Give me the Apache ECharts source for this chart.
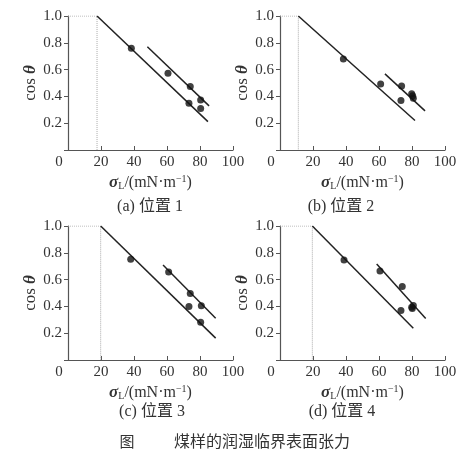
<!DOCTYPE html>
<html><head><meta charset="utf-8">
<script src="https://cdn.jsdelivr.net/npm/echarts@6/dist/echarts.min.js"></script>
<style>html,body{margin:0;padding:0;background:#fff}#c{width:464px;height:459px}</style>
</head><body><div id="c"></div><script>
// ---- data ----
const xTicks = [0, 20, 40, 60, 80, 100];
const yTicks = [0, 0.2, 0.4, 0.6, 0.8, 1.0];
const panelLabels = ['(a) 位置 1', '(b) 位置 2', '(c) 位置 3', '(d) 位置 4'];
const figNo = '图';
const figCaption = '煤样的润湿临界表面张力';
// critical surface tension (where the fitted line reaches cos θ = 1)
const criticalTension = [17.6, 11.1, 19.8, 19.6];
// measured points [σL, cosθ]
const pointsA = [[38.4, 0.759], [60.6, 0.573], [74.1, 0.473], [73.3, 0.349], [80.4, 0.374], [80.4, 0.309]];
const pointsB = [[38.4, 0.679], [61.0, 0.493], [73.7, 0.478], [73.3, 0.369], [79.8, 0.419], [80.8, 0.386], [80.4, 0.405]];
const pointsC = [[38.0, 0.752], [61.0, 0.657], [74.1, 0.496], [73.3, 0.399], [80.8, 0.404], [80.4, 0.282]];
const pointsD = [[38.8, 0.747], [60.6, 0.665], [74.1, 0.548], [73.3, 0.369], [79.8, 0.394], [80.8, 0.406], [80.2, 0.385]];
// fitted lines: [start, end]
const lowerLineA = [[17.6, 1.0], [84.8, 0.212]];
const upperLineA = [[48.1, 0.771], [85.5, 0.329]];
const lowerLineB = [[11.1, 1.0], [81.8, 0.220]];
const upperLineB = [[63.6, 0.568], [87.9, 0.292]];
const lowerLineC = [[19.8, 1.0], [89.5, 0.163]];
const upperLineC = [[57.6, 0.709], [89.5, 0.312]];
const lowerLineD = [[19.6, 1.0], [80.8, 0.237]];
const upperLineD = [[58.6, 0.717], [88.3, 0.309]];

const allPoints = [pointsA, pointsB, pointsC, pointsD];
const lowerLines = [lowerLineA, lowerLineB, lowerLineC, lowerLineD];
const upperLines = [upperLineA, upperLineB, upperLineC, upperLineD];

// ---- layout / style ----
const serif = '"Liberation Serif", "DejaVu Serif", serif';
const cjk = '"Liberation Serif", "Noto Sans CJK SC", serif';
const txt = '#333';
const axisCol = '#555';
const grids = [
  {left: 68, top: 16, width: 165, height: 134},
  {left: 280, top: 16, width: 165, height: 134},
  {left: 68, top: 226, width: 165, height: 134},
  {left: 280, top: 226, width: 165, height: 134}
];
const captionPos = [[150, 207], [341, 207], [152, 412], [342, 412]];

const xAxes = grids.map((g, i) => ({
  gridIndex: i, type: 'value', min: xTicks[0], max: xTicks[xTicks.length - 1], interval: xTicks[1] - xTicks[0],
  axisLine: {lineStyle: {color: axisCol, width: 1.2}},
  axisTick: {inside: true, length: 4, lineStyle: {color: axisCol}},
  splitLine: {show: false},
  axisLabel: {color: txt, fontFamily: serif, fontSize: 15, margin: 5,
    formatter: v => v === 0 ? '{o|0}' : String(v),
    rich: {o: {padding: [0, 18, 0, 0], color: txt, fontFamily: serif, fontSize: 15}}},
  name: '{s|σ}{sub|L}{n|/(mN·m}{sup|−1}{n|)}',
  nameLocation: 'middle', nameGap: 24,
  nameTextStyle: {color: txt, fontFamily: serif, fontSize: 16,
    rich: {
      s: {fontFamily: serif, fontSize: 17, fontStyle: 'italic', fontWeight: 'bold', color: txt},
      sub: {fontFamily: serif, fontSize: 10, color: txt, padding: [7, 0, 0, 0]},
      n: {fontFamily: serif, fontSize: 16, color: txt},
      sup: {fontFamily: serif, fontSize: 10, color: txt, padding: [0, 0, 7, 0]}
    }}
}));
const yAxes = grids.map((g, i) => ({
  gridIndex: i, type: 'value', min: yTicks[0], max: yTicks[yTicks.length - 1], interval: yTicks[1] - yTicks[0],
  axisLine: {lineStyle: {color: axisCol, width: 1.2}},
  axisTick: {inside: false, length: 4, lineStyle: {color: axisCol}},
  splitLine: {show: false},
  axisLabel: {color: txt, fontFamily: serif, fontSize: 15, margin: 6,
    formatter: v => v === 0 ? '' : v.toFixed(1)},
  name: '{c|cos }{t|θ}', nameLocation: 'middle', nameGap: 29, nameRotate: 90,
  nameTextStyle: {color: txt, fontFamily: serif, fontSize: 17,
    rich: {c: {fontFamily: serif, fontSize: 17, color: txt},
           t: {fontFamily: serif, fontSize: 17, fontStyle: 'italic', fontWeight: 'bold', color: txt}}}
}));

const series = [];
grids.forEach((g, i) => {
  const c = criticalTension[i];
  series.push({type: 'line', xAxisIndex: i, yAxisIndex: i, silent: true, symbol: 'none',
    data: [[xTicks[0], yTicks[yTicks.length - 1]], [c, yTicks[yTicks.length - 1]], [c, yTicks[0]]],
    lineStyle: {type: 'dotted', color: '#aaa', width: 1}, z: 1});
  series.push({type: 'line', xAxisIndex: i, yAxisIndex: i, silent: true, symbol: 'none',
    data: lowerLines[i], lineStyle: {color: '#222', width: 1.5}, z: 2});
  series.push({type: 'line', xAxisIndex: i, yAxisIndex: i, silent: true, symbol: 'none',
    data: upperLines[i], lineStyle: {color: '#222', width: 1.5}, z: 2});
  series.push({type: 'scatter', xAxisIndex: i, yAxisIndex: i, symbol: 'circle', symbolSize: 7,
    data: allPoints[i], itemStyle: {color: '#111'}, z: 3});
});

const graphic = panelLabels.map((t, i) => ({
  type: 'text', x: captionPos[i][0], y: captionPos[i][1],
  style: {text: t, fill: txt, font: '16px ' + cjk, textAlign: 'center', textVerticalAlign: 'middle'}
}));
graphic.push({type: 'text', x: 127, y: 441,
  style: {text: figNo, fill: txt, font: '15px "Noto Sans CJK SC"', textAlign: 'center', textVerticalAlign: 'middle'}});
graphic.push({type: 'text', x: 262, y: 441,
  style: {text: figCaption, fill: txt, font: '16px "Noto Sans CJK SC"', textAlign: 'center', textVerticalAlign: 'middle'}});

const chart = echarts.init(document.getElementById('c'), null, {renderer: 'canvas'});
chart.setOption({
  animation: false,
  backgroundColor: '#fff',
  grid: grids,
  xAxis: xAxes,
  yAxis: yAxes,
  series: series,
  graphic: graphic
});
</script></body></html>
